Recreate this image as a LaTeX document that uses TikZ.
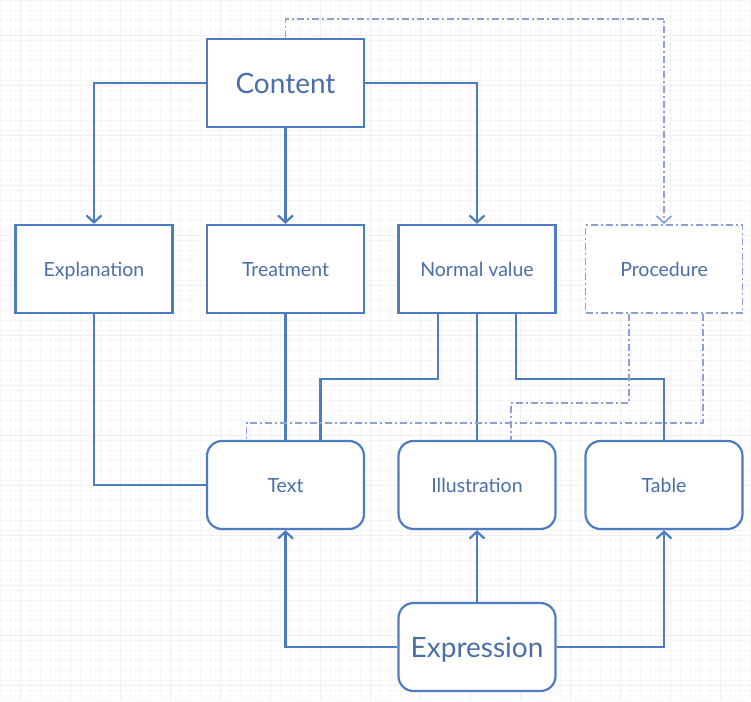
\documentclass[tikz,border=0pt]{standalone}
\usepackage{fontspec}
\setmainfont{Lato}
\usetikzlibrary{arrows.meta,calc}
\definecolor{lineblue}{RGB}{77,125,192}
\definecolor{textblue}{RGB}{74,111,168}
\definecolor{dashblue}{RGB}{142,159,214}
\definecolor{gridminor}{RGB}{246,246,246}
\definecolor{gridmajor}{RGB}{239,239,239}
\begin{document}
\begin{tikzpicture}[x=1pt,y=-1pt,
  box/.style={draw=lineblue,line width=2.2pt,fill=white,minimum width=157pt,minimum height=88pt,inner sep=0pt,text=textblue,font=\fontsize{19.5}{23}\selectfont,text height=14pt,text depth=0pt},
  bigbox/.style={box,font=\fontsize{28}{33}\selectfont,text height=20pt},
  roundbox/.style={box,rounded corners=15pt},
  dashbox/.style={box,draw=dashblue,line width=1.7pt,dash pattern=on 7pt off 3pt on 2pt off 3pt},
  conn/.style={draw=lineblue,line width=2.2pt},
  arr/.style={-{Straight Barb[length=7pt,width=15pt,line width=2.2pt]}},
  dconn/.style={draw=dashblue,line width=1.7pt,dash pattern=on 7pt off 3pt on 2pt off 3pt},
  darr/.style={-{Straight Barb[length=7pt,width=15pt,line width=1.7pt]}}
]
\useasboundingbox (0,0) rectangle (751,701);
\fill[white] (0,0) rectangle (751,701);
\draw[gridminor,line width=0.6pt] (0,0) grid[step=10pt] (751,701);
\foreach \gx in {20,70,...,720} {\draw[gridmajor,line width=0.8pt] (\gx,0) -- (\gx,701);}
\foreach \gy in {35,85,...,685} {\draw[gridmajor,line width=0.8pt] (0,\gy) -- (751,\gy);}

\node[bigbox] (content) at (285.5,83) {Content};
\node[box] (expl) at (94,269) {Explanation};
\node[box] (treat) at (285.5,269) {Treatment};
\node[box] (normal) at (477,269) {Normal value};
\node[dashbox] (proc) at (664,269) {Procedure};
\node[roundbox] (text) at (285.5,485) {Text};
\node[roundbox] (illus) at (477,485) {Illustration};
\node[roundbox] (table) at (664,485) {Table};
\node[roundbox,font=\fontsize{28}{33}\selectfont,text height=20pt] (expr) at (477,647) {Expression};

% Content connectors
\draw[conn,arr] (content.west) -| (expl.north);
\draw[conn,arr] (content.south) -- (treat.north);
\draw[conn,arr] (content.east) -| (normal.north);
\draw[dconn,darr] (content.north) -- ++(0,-19) -| (proc.north);

% into Text
\draw[conn] (expl.south) |- (text.west);
\draw[conn] (treat.south) -- (text.north);

% Normal value
\draw[conn] ($(normal.south)+(-39,0)$) -- ++(0,65) -| ($(text.north)+(35,0)$);
\draw[conn] (normal.south) -- (illus.north);
\draw[conn] ($(normal.south)+(39,0)$) -- ++(0,65) -| (table.north);

% Procedure
\draw[dconn] ($(proc.south)+(-35,0)$) -- ++(0,89) -| ($(illus.north)+(34,0)$);
\draw[dconn] ($(proc.south)+(39,0)$) -- ++(0,109) -| ($(text.north)+(-39,0)$);

% Expression
\draw[conn,arr] (expr.north) -- (illus.south);
\draw[conn,arr] (expr.west) -| (text.south);
\draw[conn,arr] (expr.east) -| (table.south);
\end{tikzpicture}
\end{document}
